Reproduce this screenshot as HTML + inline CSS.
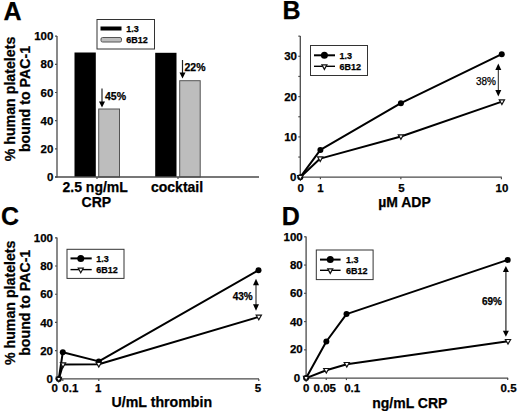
<!DOCTYPE html>
<html><head><meta charset="utf-8"><style>
html,body{margin:0;padding:0;background:#fff;}
svg{display:block;}
svg text{font-family:"Liberation Sans", sans-serif;fill:#000;stroke:#000;stroke-width:0.25px;}
</style></head><body>
<svg width="520" height="411" viewBox="0 0 520 411">
<rect width="520" height="411" fill="#fff"/>
<text x="3.5" y="19.6" font-size="25" font-weight="bold" text-anchor="start" >A</text>
<g transform="translate(15,99) rotate(-90)"><text x="0" y="0" font-size="14.2" font-weight="bold" text-anchor="middle">% human platelets</text></g>
<g transform="translate(29.6,99) rotate(-90)"><text x="0" y="0" font-size="14.2" font-weight="bold" text-anchor="middle">bound to PAC-1</text></g>
<rect x="74.5" y="52.5" width="21.3" height="124.5" fill="#000"/>
<rect x="98.7" y="109" width="20.8" height="68" fill="#bdbdbd" stroke="#555" stroke-width="1"/>
<rect x="155.2" y="52.8" width="21.3" height="124.2" fill="#000"/>
<rect x="179.7" y="80.7" width="20.5" height="96.3" fill="#bdbdbd" stroke="#555" stroke-width="1"/>
<line x1="57" y1="36" x2="57" y2="177.5" stroke="#4a4a4a" stroke-width="1.3" />
<line x1="55" y1="177" x2="259" y2="177" stroke="#4a4a4a" stroke-width="1.3" />
<line x1="55" y1="177.0" x2="57" y2="177.0" stroke="#4a4a4a" stroke-width="1.2" />
<text x="53.4" y="181.1" font-size="11.5" font-weight="bold" text-anchor="end" >0</text>
<line x1="55" y1="148.84" x2="57" y2="148.84" stroke="#4a4a4a" stroke-width="1.2" />
<text x="53.4" y="152.94" font-size="11.5" font-weight="bold" text-anchor="end" >20</text>
<line x1="55" y1="120.68" x2="57" y2="120.68" stroke="#4a4a4a" stroke-width="1.2" />
<text x="53.4" y="124.78" font-size="11.5" font-weight="bold" text-anchor="end" >40</text>
<line x1="55" y1="92.52000000000001" x2="57" y2="92.52000000000001" stroke="#4a4a4a" stroke-width="1.2" />
<text x="53.4" y="96.62" font-size="11.5" font-weight="bold" text-anchor="end" >60</text>
<line x1="55" y1="64.36000000000001" x2="57" y2="64.36000000000001" stroke="#4a4a4a" stroke-width="1.2" />
<text x="53.4" y="68.46000000000001" font-size="11.5" font-weight="bold" text-anchor="end" >80</text>
<line x1="55" y1="36.20000000000002" x2="57" y2="36.20000000000002" stroke="#4a4a4a" stroke-width="1.2" />
<text x="53.4" y="40.30000000000002" font-size="11.5" font-weight="bold" text-anchor="end" >100</text>
<line x1="97" y1="177" x2="97" y2="179" stroke="#4a4a4a" stroke-width="1.2" />
<line x1="178" y1="177" x2="178" y2="179" stroke="#4a4a4a" stroke-width="1.2" />
<line x1="102" y1="88.5" x2="102" y2="102.5" stroke="#222" stroke-width="1.2" />
<path d="M99,101.5 L105,101.5 L102,107.5 Z" fill="#000"/>
<line x1="182.5" y1="60" x2="182.5" y2="73.5" stroke="#222" stroke-width="1.2" />
<path d="M179.5,72.5 L185.5,72.5 L182.5,78.5 Z" fill="#000"/>
<text x="105.0" y="100.4" font-size="10.5" font-weight="bold" text-anchor="start" >45%</text>
<text x="184.5" y="71.0" font-size="10.5" font-weight="bold" text-anchor="start" >22%</text>
<rect x="97" y="19.5" width="57.5" height="29.5" fill="#fff" stroke="#333" stroke-width="1"/>
<rect x="100.5" y="26.5" width="21" height="4" fill="#000"/>
<rect x="101" y="37.5" width="20.5" height="4.5" rx="1.5" fill="#bdbdbd" stroke="#555" stroke-width="1"/>
<text x="126.2" y="31.6" font-size="9" font-weight="bold" text-anchor="start" >1.3</text>
<text x="126.2" y="43" font-size="9" font-weight="bold" text-anchor="start" >6B12</text>
<text x="62.5" y="191.6" font-size="14" font-weight="bold" text-anchor="start" >2.5 ng/mL</text>
<text x="96.4" y="206.6" font-size="14" font-weight="bold" text-anchor="middle" >CRP</text>
<text x="151" y="192" font-size="14" font-weight="bold" text-anchor="start" >cocktail</text>
<text x="282.6" y="19.2" font-size="25" font-weight="bold" text-anchor="start" >B</text>
<line x1="300.3" y1="36" x2="300.3" y2="177.7" stroke="#4a4a4a" stroke-width="1.3" />
<line x1="300.3" y1="177.2" x2="501.79999999999995" y2="177.2" stroke="#4a4a4a" stroke-width="1.3" />
<line x1="298.3" y1="177.2" x2="300.3" y2="177.2" stroke="#4a4a4a" stroke-width="1.2" />
<text x="296.5" y="181.29999999999998" font-size="11.5" font-weight="bold" text-anchor="end" >0</text>
<line x1="298.3" y1="157.04999999999998" x2="300.3" y2="157.04999999999998" stroke="#4a4a4a" stroke-width="1.2" />
<line x1="298.3" y1="136.89999999999998" x2="300.3" y2="136.89999999999998" stroke="#4a4a4a" stroke-width="1.2" />
<text x="297.0" y="140.99999999999997" font-size="11.5" font-weight="bold" text-anchor="end" >10</text>
<line x1="298.3" y1="116.74999999999999" x2="300.3" y2="116.74999999999999" stroke="#4a4a4a" stroke-width="1.2" />
<line x1="298.3" y1="96.59999999999998" x2="300.3" y2="96.59999999999998" stroke="#4a4a4a" stroke-width="1.2" />
<text x="297.0" y="100.69999999999997" font-size="11.5" font-weight="bold" text-anchor="end" >20</text>
<line x1="298.3" y1="76.44999999999999" x2="300.3" y2="76.44999999999999" stroke="#4a4a4a" stroke-width="1.2" />
<line x1="298.3" y1="56.29999999999998" x2="300.3" y2="56.29999999999998" stroke="#4a4a4a" stroke-width="1.2" />
<text x="297.0" y="60.399999999999984" font-size="11.5" font-weight="bold" text-anchor="end" >30</text>
<line x1="298.3" y1="36.14999999999998" x2="300.3" y2="36.14999999999998" stroke="#4a4a4a" stroke-width="1.2" />
<line x1="300.3" y1="177.2" x2="300.3" y2="179.2" stroke="#4a4a4a" stroke-width="1.2" />
<text x="300.8" y="191.6" font-size="11.5" font-weight="bold" text-anchor="middle" >0</text>
<line x1="320.41" y1="177.2" x2="320.41" y2="179.2" stroke="#4a4a4a" stroke-width="1.2" />
<text x="320.41" y="191.6" font-size="11.5" font-weight="bold" text-anchor="middle" >1</text>
<line x1="400.85" y1="177.2" x2="400.85" y2="179.2" stroke="#4a4a4a" stroke-width="1.2" />
<text x="401.35" y="191.6" font-size="11.5" font-weight="bold" text-anchor="middle" >5</text>
<line x1="501.4" y1="177.2" x2="501.4" y2="179.2" stroke="#4a4a4a" stroke-width="1.2" />
<text x="501.9" y="191.6" font-size="11.5" font-weight="bold" text-anchor="middle" >10</text>
<text x="404.5" y="207.2" font-size="14" font-weight="bold" text-anchor="middle" >µM ADP</text>
<polyline points="300.3,177.2 320.4,149.9 400.9,103.2 501.75,54.2" fill="none" stroke="#000" stroke-width="2" stroke-linejoin="round"/>
<polyline points="300.3,177.2 320.2,158.6 400.9,136.5 501.9,101.6" fill="none" stroke="#000" stroke-width="2" stroke-linejoin="round"/>
<circle cx="300.3" cy="177.2" r="3" fill="#000"/>
<circle cx="320.4" cy="149.9" r="3" fill="#000"/>
<circle cx="400.9" cy="103.2" r="3" fill="#000"/>
<circle cx="501.75" cy="54.2" r="3" fill="#000"/>
<path d="M297.70,175.50 L302.90,175.50 L300.30,180.10 Z" fill="#fff" stroke="#111" stroke-width="1.2" stroke-linejoin="miter"/>
<path d="M317.60,156.90 L322.80,156.90 L320.20,161.50 Z" fill="#fff" stroke="#111" stroke-width="1.2" stroke-linejoin="miter"/>
<path d="M398.30,134.80 L403.50,134.80 L400.90,139.40 Z" fill="#fff" stroke="#111" stroke-width="1.2" stroke-linejoin="miter"/>
<path d="M499.30,99.90 L504.50,99.90 L501.90,104.50 Z" fill="#fff" stroke="#111" stroke-width="1.2" stroke-linejoin="miter"/>
<line x1="498.3" y1="69.1" x2="498.3" y2="91.0" stroke="#222" stroke-width="1" />
<path d="M495.3,70.1 L501.3,70.1 L498.3,63.6 Z" fill="#000"/>
<path d="M495.3,90.0 L501.3,90.0 L498.3,96.5 Z" fill="#000"/>
<text x="476" y="85" font-size="10" font-weight="normal" text-anchor="start" >38%</text>
<rect x="310.5" y="45.5" width="57.0" height="30.0" fill="#fff" stroke="#333" stroke-width="1"/>
<line x1="314" y1="55.3" x2="335" y2="55.3" stroke="#000" stroke-width="2" />
<circle cx="324.4" cy="55.3" r="3.5" fill="#000"/>
<line x1="314" y1="66.3" x2="335" y2="66.3" stroke="#000" stroke-width="1.4" />
<path d="M321.90,64.90 L326.90,64.90 L324.40,69.40 Z" fill="#fff" stroke="#111" stroke-width="1.2" stroke-linejoin="miter"/>
<text x="339.6" y="58.6" font-size="9" font-weight="bold" text-anchor="start" >1.3</text>
<text x="339.6" y="70" font-size="9" font-weight="bold" text-anchor="start" >6B12</text>
<text x="0.9" y="224.5" font-size="25" font-weight="bold" text-anchor="start" >C</text>
<g transform="translate(15,302.8) rotate(-90)"><text x="0" y="0" font-size="14.2" font-weight="bold" text-anchor="middle">% human platelets</text></g>
<g transform="translate(29.6,302.8) rotate(-90)"><text x="0" y="0" font-size="14.2" font-weight="bold" text-anchor="middle">bound to PAC-1</text></g>
<line x1="57" y1="237.5" x2="57" y2="379.4" stroke="#4a4a4a" stroke-width="1.3" />
<line x1="57" y1="378.9" x2="259" y2="378.9" stroke="#4a4a4a" stroke-width="1.3" />
<line x1="55" y1="378.9" x2="57" y2="378.9" stroke="#4a4a4a" stroke-width="1.2" />
<text x="53.0" y="383.0" font-size="11.5" font-weight="bold" text-anchor="end" >0</text>
<line x1="55" y1="350.67999999999995" x2="57" y2="350.67999999999995" stroke="#4a4a4a" stroke-width="1.2" />
<text x="53.0" y="354.78" font-size="11.5" font-weight="bold" text-anchor="end" >20</text>
<line x1="55" y1="322.46" x2="57" y2="322.46" stroke="#4a4a4a" stroke-width="1.2" />
<text x="53.0" y="326.56" font-size="11.5" font-weight="bold" text-anchor="end" >40</text>
<line x1="55" y1="294.24" x2="57" y2="294.24" stroke="#4a4a4a" stroke-width="1.2" />
<text x="53.0" y="298.34000000000003" font-size="11.5" font-weight="bold" text-anchor="end" >60</text>
<line x1="55" y1="266.02" x2="57" y2="266.02" stroke="#4a4a4a" stroke-width="1.2" />
<text x="53.0" y="270.12" font-size="11.5" font-weight="bold" text-anchor="end" >80</text>
<line x1="55" y1="237.79999999999998" x2="57" y2="237.79999999999998" stroke="#4a4a4a" stroke-width="1.2" />
<text x="53.0" y="241.89999999999998" font-size="11.5" font-weight="bold" text-anchor="end" >100</text>
<line x1="62.8" y1="378.9" x2="62.8" y2="380.9" stroke="#4a4a4a" stroke-width="1.2" />
<line x1="98.8" y1="378.9" x2="98.8" y2="380.9" stroke="#4a4a4a" stroke-width="1.2" />
<line x1="258.8" y1="378.9" x2="258.8" y2="380.9" stroke="#4a4a4a" stroke-width="1.2" />
<text x="54.8" y="391.8" font-size="11.5" font-weight="bold" text-anchor="middle" >0</text>
<text x="62.3" y="391.8" font-size="11.5" font-weight="bold" text-anchor="start" >0.1</text>
<text x="98.3" y="391.8" font-size="11.5" font-weight="bold" text-anchor="middle" >1</text>
<text x="258" y="391.8" font-size="11.5" font-weight="bold" text-anchor="middle" >5</text>
<text x="111.5" y="406.6" font-size="14.2" font-weight="bold" text-anchor="start" >U/mL thrombin</text>
<polyline points="58.8,379 62.8,352.2 98.8,361.4 258.5,270.2" fill="none" stroke="#000" stroke-width="2" stroke-linejoin="round"/>
<polyline points="58.8,379 63,364.6 98.8,364.2 258.8,316.9" fill="none" stroke="#000" stroke-width="2" stroke-linejoin="round"/>
<circle cx="58.8" cy="379" r="3" fill="#000"/>
<circle cx="62.8" cy="352.2" r="3" fill="#000"/>
<circle cx="98.8" cy="361.4" r="3" fill="#000"/>
<circle cx="258.5" cy="270.2" r="3" fill="#000"/>
<path d="M56.20,377.30 L61.40,377.30 L58.80,381.90 Z" fill="#fff" stroke="#111" stroke-width="1.2" stroke-linejoin="miter"/>
<path d="M60.40,362.90 L65.60,362.90 L63.00,367.50 Z" fill="#fff" stroke="#111" stroke-width="1.2" stroke-linejoin="miter"/>
<path d="M96.20,362.50 L101.40,362.50 L98.80,367.10 Z" fill="#fff" stroke="#111" stroke-width="1.2" stroke-linejoin="miter"/>
<path d="M256.20,315.20 L261.40,315.20 L258.80,319.80 Z" fill="#fff" stroke="#111" stroke-width="1.2" stroke-linejoin="miter"/>
<line x1="256" y1="284.2" x2="256" y2="305.3" stroke="#555" stroke-width="1.4" />
<path d="M253,285.2 L259,285.2 L256,278.7 Z" fill="#000"/>
<path d="M253,304.3 L259,304.3 L256,310.8 Z" fill="#000"/>
<text x="232.7" y="300.1" font-size="10" font-weight="bold" text-anchor="start" >43%</text>
<rect x="67" y="249.3" width="57" height="29.099999999999966" fill="#fff" stroke="#333" stroke-width="1"/>
<line x1="70.5" y1="258.4" x2="91.7" y2="258.4" stroke="#000" stroke-width="2" />
<circle cx="80.75" cy="258.4" r="3.5" fill="#000"/>
<line x1="70.5" y1="269.6" x2="91.7" y2="269.6" stroke="#000" stroke-width="1.4" />
<path d="M78.25,268.20 L83.25,268.20 L80.75,272.70 Z" fill="#fff" stroke="#111" stroke-width="1.2" stroke-linejoin="miter"/>
<text x="96.2" y="261.7" font-size="9" font-weight="bold" text-anchor="start" >1.3</text>
<text x="96.2" y="272.8" font-size="9" font-weight="bold" text-anchor="start" >6B12</text>
<text x="281.8" y="224.8" font-size="25" font-weight="bold" text-anchor="start" >D</text>
<line x1="306.1" y1="236.5" x2="306.1" y2="378.6" stroke="#4a4a4a" stroke-width="1.3" />
<line x1="306.1" y1="378.1" x2="508.1" y2="378.1" stroke="#4a4a4a" stroke-width="1.3" />
<line x1="304.1" y1="378.1" x2="306.1" y2="378.1" stroke="#4a4a4a" stroke-width="1.2" />
<text x="300.2" y="382.20000000000005" font-size="11.5" font-weight="bold" text-anchor="end" >0</text>
<line x1="304.1" y1="349.84000000000003" x2="306.1" y2="349.84000000000003" stroke="#4a4a4a" stroke-width="1.2" />
<text x="302.7" y="352.94000000000005" font-size="11.5" font-weight="bold" text-anchor="end" >20</text>
<line x1="304.1" y1="321.58000000000004" x2="306.1" y2="321.58000000000004" stroke="#4a4a4a" stroke-width="1.2" />
<text x="302.7" y="325.68000000000006" font-size="11.5" font-weight="bold" text-anchor="end" >40</text>
<line x1="304.1" y1="293.32000000000005" x2="306.1" y2="293.32000000000005" stroke="#4a4a4a" stroke-width="1.2" />
<text x="302.7" y="297.4200000000001" font-size="11.5" font-weight="bold" text-anchor="end" >60</text>
<line x1="304.1" y1="265.06" x2="306.1" y2="265.06" stroke="#4a4a4a" stroke-width="1.2" />
<text x="302.7" y="269.16" font-size="11.5" font-weight="bold" text-anchor="end" >80</text>
<line x1="304.1" y1="236.8" x2="306.1" y2="236.8" stroke="#4a4a4a" stroke-width="1.2" />
<text x="302.7" y="240.9" font-size="11.5" font-weight="bold" text-anchor="end" >100</text>
<line x1="306.1" y1="378.1" x2="306.1" y2="380.1" stroke="#4a4a4a" stroke-width="1.2" />
<line x1="326.26000000000005" y1="378.1" x2="326.26000000000005" y2="380.1" stroke="#4a4a4a" stroke-width="1.2" />
<line x1="346.42" y1="378.1" x2="346.42" y2="380.1" stroke="#4a4a4a" stroke-width="1.2" />
<line x1="507.70000000000005" y1="378.1" x2="507.70000000000005" y2="380.1" stroke="#4a4a4a" stroke-width="1.2" />
<text x="306.3" y="392.2" font-size="11.5" font-weight="bold" text-anchor="middle" >0</text>
<text x="313.6" y="392.2" font-size="11.5" font-weight="bold" text-anchor="start" >0.05</text>
<text x="344.2" y="392.2" font-size="11.5" font-weight="bold" text-anchor="start" >0.1</text>
<text x="508.6" y="392.2" font-size="11.5" font-weight="bold" text-anchor="middle" >0.5</text>
<text x="372.2" y="407.6" font-size="14" font-weight="bold" text-anchor="start" >ng/mL CRP</text>
<polyline points="306.1,378.1 326.35,341.5 346.5,314.1 507.7,259.9" fill="none" stroke="#000" stroke-width="2" stroke-linejoin="round"/>
<polyline points="306.1,378.1 326.3,370.2 346.8,364.2 508,341.2" fill="none" stroke="#000" stroke-width="2" stroke-linejoin="round"/>
<circle cx="306.1" cy="378.1" r="3" fill="#000"/>
<circle cx="326.35" cy="341.5" r="3" fill="#000"/>
<circle cx="346.5" cy="314.1" r="3" fill="#000"/>
<circle cx="507.7" cy="259.9" r="3" fill="#000"/>
<path d="M303.50,376.40 L308.70,376.40 L306.10,381.00 Z" fill="#fff" stroke="#111" stroke-width="1.2" stroke-linejoin="miter"/>
<path d="M323.70,368.50 L328.90,368.50 L326.30,373.10 Z" fill="#fff" stroke="#111" stroke-width="1.2" stroke-linejoin="miter"/>
<path d="M344.20,362.50 L349.40,362.50 L346.80,367.10 Z" fill="#fff" stroke="#111" stroke-width="1.2" stroke-linejoin="miter"/>
<path d="M505.40,339.50 L510.60,339.50 L508.00,344.10 Z" fill="#fff" stroke="#111" stroke-width="1.2" stroke-linejoin="miter"/>
<line x1="505.9" y1="270.9" x2="505.9" y2="331.8" stroke="#444" stroke-width="1.4" />
<path d="M502.9,271.9 L508.9,271.9 L505.9,265.9 Z" fill="#000"/>
<path d="M502.9,330.8 L508.9,330.8 L505.9,336.8 Z" fill="#000"/>
<text x="482" y="304.8" font-size="10" font-weight="bold" text-anchor="start" >69%</text>
<rect x="316.3" y="250" width="56.80000000000001" height="29.600000000000023" fill="#fff" stroke="#333" stroke-width="1"/>
<line x1="320" y1="259.6" x2="340.6" y2="259.6" stroke="#000" stroke-width="2" />
<circle cx="330.25" cy="259.6" r="3.5" fill="#000"/>
<line x1="320" y1="270.3" x2="340.6" y2="270.3" stroke="#000" stroke-width="1.4" />
<path d="M327.75,268.90 L332.75,268.90 L330.25,273.40 Z" fill="#fff" stroke="#111" stroke-width="1.2" stroke-linejoin="miter"/>
<text x="346.1" y="262.7" font-size="9" font-weight="bold" text-anchor="start" >1.3</text>
<text x="346.1" y="273.9" font-size="9" font-weight="bold" text-anchor="start" >6B12</text>
</svg>
</body></html>
